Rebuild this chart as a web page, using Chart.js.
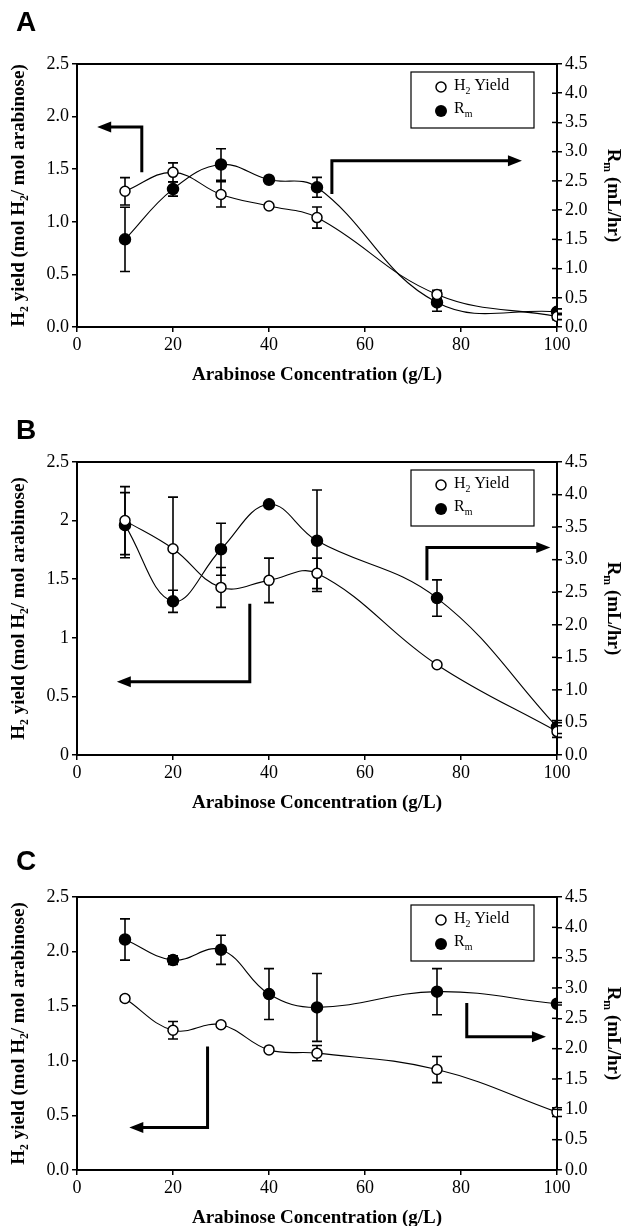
<!DOCTYPE html>
<html>
<head>
<meta charset="utf-8">
<script src="https://cdn.jsdelivr.net/npm/chart.js@4.4.1/dist/chart.umd.min.js"></script>
<style>
  html, body { margin: 0; padding: 0; background: #fff; }
  #wrap { position: relative; width: 625px; height: 1226px; }
  canvas { position: absolute; left: 0; }
</style>
</head>
<body>
<div id="wrap">
  <canvas id="chartA" width="625" height="400" style="top:0"></canvas>
  <canvas id="chartB" width="625" height="420" style="top:400px"></canvas>
  <canvas id="chartC" width="625" height="406" style="top:820px"></canvas>
</div>
<script>
// arabinose concentration (g/L), same for all panels
const concentrations = [10, 20, 30, 40, 50, 75, 100];
const xTicks = [0, 20, 40, 60, 80, 100];
const yieldTicksAC = ['0.0', '0.5', '1.0', '1.5', '2.0', '2.5'];
const yieldTicksB = ['0', '0.5', '1', '1.5', '2', '2.5'];
const rateTicks = ['0.0', '0.5', '1.0', '1.5', '2.0', '2.5', '3.0', '3.5', '4.0', '4.5'];

// panel A
const yieldA = [1.29, 1.47, 1.26, 1.15, 1.04, 0.31, 0.10];
const yieldErrA = [0.13, 0.09, 0.12, 0.02, 0.10, 0.04, 0.03];
const rateA = [1.50, 2.36, 2.78, 2.52, 2.39, 0.42, 0.26];
const rateErrA = [0.55, 0.12, 0.27, 0.03, 0.17, 0.15, 0.05];

// panel B
const yieldB = [2.00, 1.76, 1.43, 1.49, 1.55, 0.77, 0.20];
const yieldErrB = [0.29, 0.44, 0.17, 0.19, 0.13, 0.01, 0.05];
const rateB = [3.53, 2.36, 3.16, 3.85, 3.29, 2.41, 0.43];
const rateErrB = [0.50, 0.17, 0.40, 0.03, 0.78, 0.28, 0.10];

// panel C
const yieldC = [1.57, 1.28, 1.33, 1.10, 1.07, 0.92, 0.53];
const yieldErrC = [0.02, 0.08, 0.02, 0.02, 0.07, 0.12, 0.04];
const rateC = [3.80, 3.46, 3.63, 2.90, 2.68, 2.94, 2.74];
const rateErrC = [0.34, 0.07, 0.24, 0.42, 0.56, 0.38, 0.02];

const SERIF = '"Liberation Serif", "Times New Roman", serif';

// text with subscripts: parts = [[text, isSub], ...]
function drawRich(ctx, parts, x, y, size, bold) {
  const fontOf = s => (bold ? 'bold ' : '') + s + 'px ' + SERIF;
  let total = 0;
  parts.forEach(([t, sub]) => {
    ctx.font = fontOf(sub ? size * 0.62 : size);
    total += ctx.measureText(t).width;
  });
  let cx = x - total / 2;
  ctx.textAlign = 'left';
  ctx.textBaseline = 'middle';
  parts.forEach(([t, sub]) => {
    ctx.font = fontOf(sub ? size * 0.62 : size);
    ctx.fillText(t, cx, sub ? y + size * 0.32 : y);
    cx += ctx.measureText(t).width;
  });
}

function drawRichLeft(ctx, parts, x, y, size) {
  let cx = x;
  ctx.textAlign = 'left';
  ctx.textBaseline = 'middle';
  parts.forEach(([t, sub]) => {
    ctx.font = (sub ? size * 0.62 : size) + 'px ' + SERIF;
    ctx.fillText(t, cx, sub ? y + size * 0.32 : y);
    cx += ctx.measureText(t).width;
  });
}

const decor = {
  id: 'decor',
  beforeDatasetsDraw(chart, args, o) {
    const ctx = chart.ctx;
    const xs = chart.scales.x;
    ctx.save();
    ctx.strokeStyle = '#000';
    ctx.lineWidth = 1.6;
    const bars = [[o.yieldVals, o.yieldErr, chart.scales.y], [o.rateVals, o.rateErr, chart.scales.y1]];
    bars.forEach(([vals, errs, ys]) => {
      vals.forEach((v, i) => {
        const px = xs.getPixelForValue(concentrations[i]);
        const top = ys.getPixelForValue(v + errs[i]);
        const bot = ys.getPixelForValue(v - errs[i]);
        ctx.beginPath();
        ctx.moveTo(px, top); ctx.lineTo(px, bot);
        ctx.moveTo(px - 5, top); ctx.lineTo(px + 5, top);
        ctx.moveTo(px - 5, bot); ctx.lineTo(px + 5, bot);
        ctx.stroke();
      });
    });
    ctx.restore();
  },
  afterDraw(chart, args, o) {
    const ctx = chart.ctx;
    const { left, right, top, bottom } = chart.chartArea;
    const xs = chart.scales.x, yl = chart.scales.y, yr = chart.scales.y1;
    ctx.save();
    ctx.fillStyle = '#000';
    ctx.strokeStyle = '#000';

    // top frame line
    ctx.lineWidth = 2;
    ctx.beginPath();
    ctx.moveTo(left - 1, top); ctx.lineTo(right + 1, top);
    ctx.stroke();

    // right axis ticks cross the axis
    ctx.lineWidth = 1.5;
    yr.ticks.forEach(t => {
      const py = yr.getPixelForValue(t.value);
      ctx.beginPath();
      ctx.moveTo(right - 5, py); ctx.lineTo(right, py);
      ctx.stroke();
    });

    // bent arrows, given in data units
    o.arrows.forEach(pts => {
      const p = pts.map(([x, y]) => [xs.getPixelForValue(x), yl.getPixelForValue(y)]);
      const [ex, ey] = p[p.length - 1];
      const [bx, by] = p[p.length - 2];
      const dir = Math.sign(ex - bx);
      ctx.lineWidth = 3;
      ctx.beginPath();
      ctx.moveTo(p[0][0], p[0][1]);
      for (let i = 1; i < p.length - 1; i++) ctx.lineTo(p[i][0], p[i][1]);
      ctx.lineTo(ex - dir * 10, ey);
      ctx.stroke();
      ctx.beginPath();
      ctx.moveTo(ex, ey);
      ctx.lineTo(ex - dir * 14, ey - 5.5);
      ctx.lineTo(ex - dir * 14, ey + 5.5);
      ctx.closePath();
      ctx.fill();
    });

    // legend box
    const bx = right - 146, by = top + 8;
    ctx.lineWidth = 1.2;
    ctx.strokeRect(bx, by, 123, 56);
    ctx.beginPath();
    ctx.arc(bx + 30, by + 15, 5, 0, Math.PI * 2);
    ctx.fillStyle = '#fff'; ctx.fill();
    ctx.lineWidth = 1.5; ctx.stroke();
    ctx.beginPath();
    ctx.arc(bx + 30, by + 39, 6, 0, Math.PI * 2);
    ctx.fillStyle = '#000'; ctx.fill();
    drawRichLeft(ctx, [['H', false], ['2', true], [' Yield', false]], bx + 43, by + 14, 16);
    drawRichLeft(ctx, [['R', false], ['m', true]], bx + 43, by + 37, 16);

    // panel letter
    ctx.font = 'bold 28px "Liberation Sans", Arial, sans-serif';
    ctx.textAlign = 'left';
    ctx.textBaseline = 'middle';
    ctx.fillText(o.letter, 16, o.letterY);

    // axis titles
    const midY = (top + bottom) / 2;
    drawRich(ctx, [['Arabinose Concentration (g/L)', false]], (left + right) / 2, bottom + 48, 19, true);
    ctx.save();
    ctx.translate(19, midY);
    ctx.rotate(-Math.PI / 2);
    drawRich(ctx, [['H', false], ['2', true], [' yield (mol H', false], ['2', true], ['/ mol arabinose)', false]], 0, 0, 19, true);
    ctx.restore();
    ctx.save();
    ctx.translate(613, midY);
    ctx.rotate(Math.PI / 2);
    drawRich(ctx, [['R', false], ['m', true], [' (mL/hr)', false]], 0, 0, 19, true);
    ctx.restore();

    ctx.restore();
  }
};

function makeChart(id, p) {
  const tickFont = { family: SERIF, size: 18 };
  const series = (vals, axis, fill, r) => ({
    data: concentrations.map((x, i) => ({ x, y: vals[i] })),
    yAxisID: axis,
    borderColor: '#000',
    borderWidth: 1.1,
    tension: 0.4,
    pointRadius: r,
    pointBorderWidth: 1.5,
    pointBorderColor: '#000',
    pointBackgroundColor: fill,
    backgroundColor: fill
  });
  const axisBorder = { display: true, color: '#000', width: 2 };
  const tickGrid = { drawOnChartArea: false, drawTicks: true, tickLength: 5, color: '#000', lineWidth: 1.5 };
  return new Chart(document.getElementById(id), {
    type: 'line',
    data: {
      datasets: [
        series(p.yieldVals, 'y', '#fff', 5),
        series(p.rateVals, 'y1', '#000', 5.5)
      ]
    },
    options: {
      responsive: false,
      animation: false,
      layout: { autoPadding: false, padding: { top: p.padTop, left: 0, right: 0, bottom: 0 } },
      plugins: {
        legend: { display: false },
        tooltip: { enabled: false },
        decor: p
      },
      scales: {
        x: {
          type: 'linear', min: 0, max: 100,
          afterBuildTicks: s => { s.ticks = xTicks.map(v => ({ value: v })); },
          ticks: { font: tickFont, color: '#000', padding: 2, maxRotation: 0 },
          grid: tickGrid, border: axisBorder,
          afterFit: s => { s.height = p.xAxisH; }
        },
        y: {
          position: 'left', min: 0, max: 2.5,
          ticks: { stepSize: 0.5, font: tickFont, color: '#000', padding: 3, callback: (v, i) => p.yieldTicks[i] },
          grid: tickGrid, border: axisBorder,
          afterFit: s => { s.width = 77; }
        },
        y1: {
          position: 'right', min: 0, max: 4.5,
          ticks: { stepSize: 0.5, font: tickFont, color: '#000', padding: 3, callback: (v, i) => rateTicks[i] },
          grid: tickGrid, border: axisBorder,
          afterFit: s => { s.width = 68; }
        }
      }
    },
    plugins: [decor]
  });
}

makeChart('chartA', {
  letter: 'A', letterY: 23, padTop: 64, xAxisH: 73,
  yieldTicks: yieldTicksAC,
  yieldVals: yieldA, yieldErr: yieldErrA, rateVals: rateA, rateErr: rateErrA,
  arrows: [
    [[13.5, 1.47], [13.5, 1.90], [4.2, 1.90]],
    [[53.1, 1.265], [53.1, 1.58], [92.7, 1.58]]
  ]
});

makeChart('chartB', {
  letter: 'B', letterY: 31, padTop: 62, xAxisH: 65,
  yieldTicks: yieldTicksB,
  yieldVals: yieldB, yieldErr: yieldErrB, rateVals: rateB, rateErr: rateErrB,
  arrows: [
    [[36.0, 1.29], [36.0, 0.625], [8.3, 0.625]],
    [[72.9, 1.49], [72.9, 1.77], [98.6, 1.77]]
  ]
});

makeChart('chartC', {
  letter: 'C', letterY: 42, padTop: 77, xAxisH: 56,
  yieldTicks: yieldTicksAC,
  yieldVals: yieldC, yieldErr: yieldErrC, rateVals: rateC, rateErr: rateErrC,
  arrows: [
    [[27.2, 1.13], [27.2, 0.39], [10.9, 0.39]],
    [[81.2, 1.53], [81.2, 1.22], [97.7, 1.22]]
  ]
});
</script>
</body>
</html>
